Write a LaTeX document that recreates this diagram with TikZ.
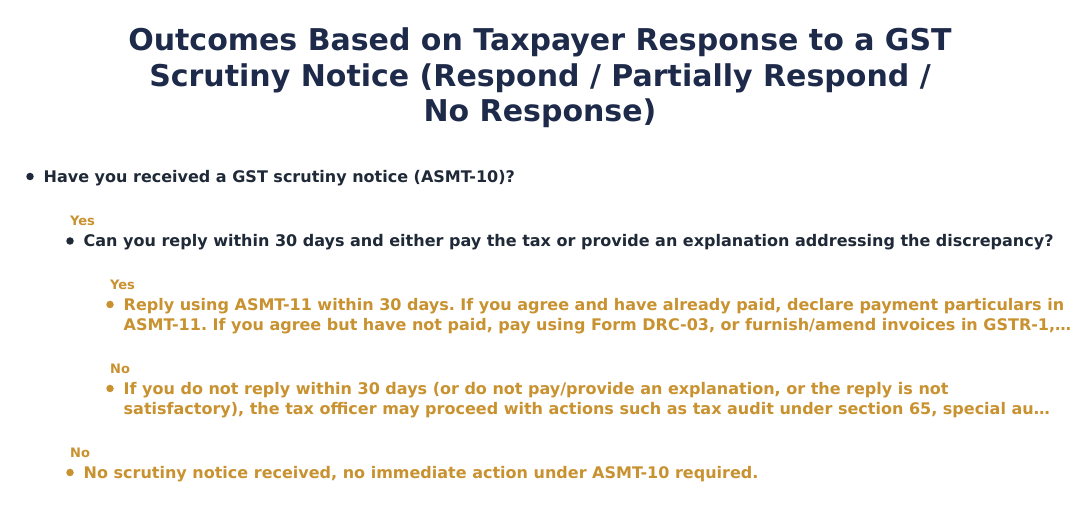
\documentclass[tikz,border=0pt]{standalone}
\usepackage{fontspec}
\setmainfont{DejaVu Sans}
\frenchspacing
\usetikzlibrary{positioning}
\definecolor{navy}{HTML}{1E2A4A}
\definecolor{ink}{HTML}{1F2937}
\definecolor{gold}{HTML}{C99230}
\tikzset{
  title/.style={text=navy, font=\bfseries\fontsize{30}{35.5}\selectfont, align=center, inner sep=0pt},
  ask/.style={text=ink, font=\bfseries\fontsize{16}{20}\selectfont, anchor=base west, inner sep=0pt, align=left},
  act/.style={ask, text=gold},
  tag/.style={text=gold, font=\bfseries\fontsize{13}{15}\selectfont, anchor=base west, inner sep=0pt},
  dot/.style={circle, fill=#1, inner sep=0pt, minimum size=7.5pt},
}
\begin{document}
\begin{tikzpicture}[x=1pt, y=-1pt]
  \useasboundingbox[fill=white] (0,0) rectangle (1080,510);
  \node[title] (head) at (540,78) {Outcomes Based on Taxpayer Response to a GST\\
    Scrutiny Notice (Respond / Partially Respond /\\ No Response)};
  % received a notice?
  \node[dot=ink] (d1) at (30,176.5) {};
  \node[ask] (q1) at (43.5,182.5) {Have you received a GST scrutiny notice (ASMT-10)?};
  % yes
  \node[tag] (y1) at (70,226) {Yes};
  \node[dot=ink] (d2) at (70,241) {};
  \node[ask] (q2) at (83.5,246.5) {Can you reply within 30 days and either pay the tax or provide an explanation addressing the discrepancy?};
  \node[tag] (y2) at (110,290) {Yes};
  \node[dot=gold] (d3) at (110,304.5) {};
  % base = last line
  \node[act] (a1) at (123.5,330.5) {Reply using ASMT-11 within 30 days. If you agree and have already paid, declare payment particulars in\\
    ASMT-11. If you agree but have not paid, pay using Form DRC-03, or furnish/amend invoices in GSTR-1,…};
  \node[tag] (n2) at (110,374) {No};
  \node[dot=gold] (d4) at (110,388.5) {};
  \node[act] (a2) at (123.5,414.5) {If you do not reply within 30 days (or do not pay/provide an explanation, or the reply is not\\
    satisfactory), the tax officer may proceed with actions such as tax audit under section 65, special au…};
  % no
  \node[tag] (n1) at (70,458) {No};
  \node[dot=gold] (d5) at (70,472.5) {};
  \node[act] (a3) at (83.5,478.5) {No scrutiny notice received, no immediate action under ASMT-10 required.};
\end{tikzpicture}
\end{document}
